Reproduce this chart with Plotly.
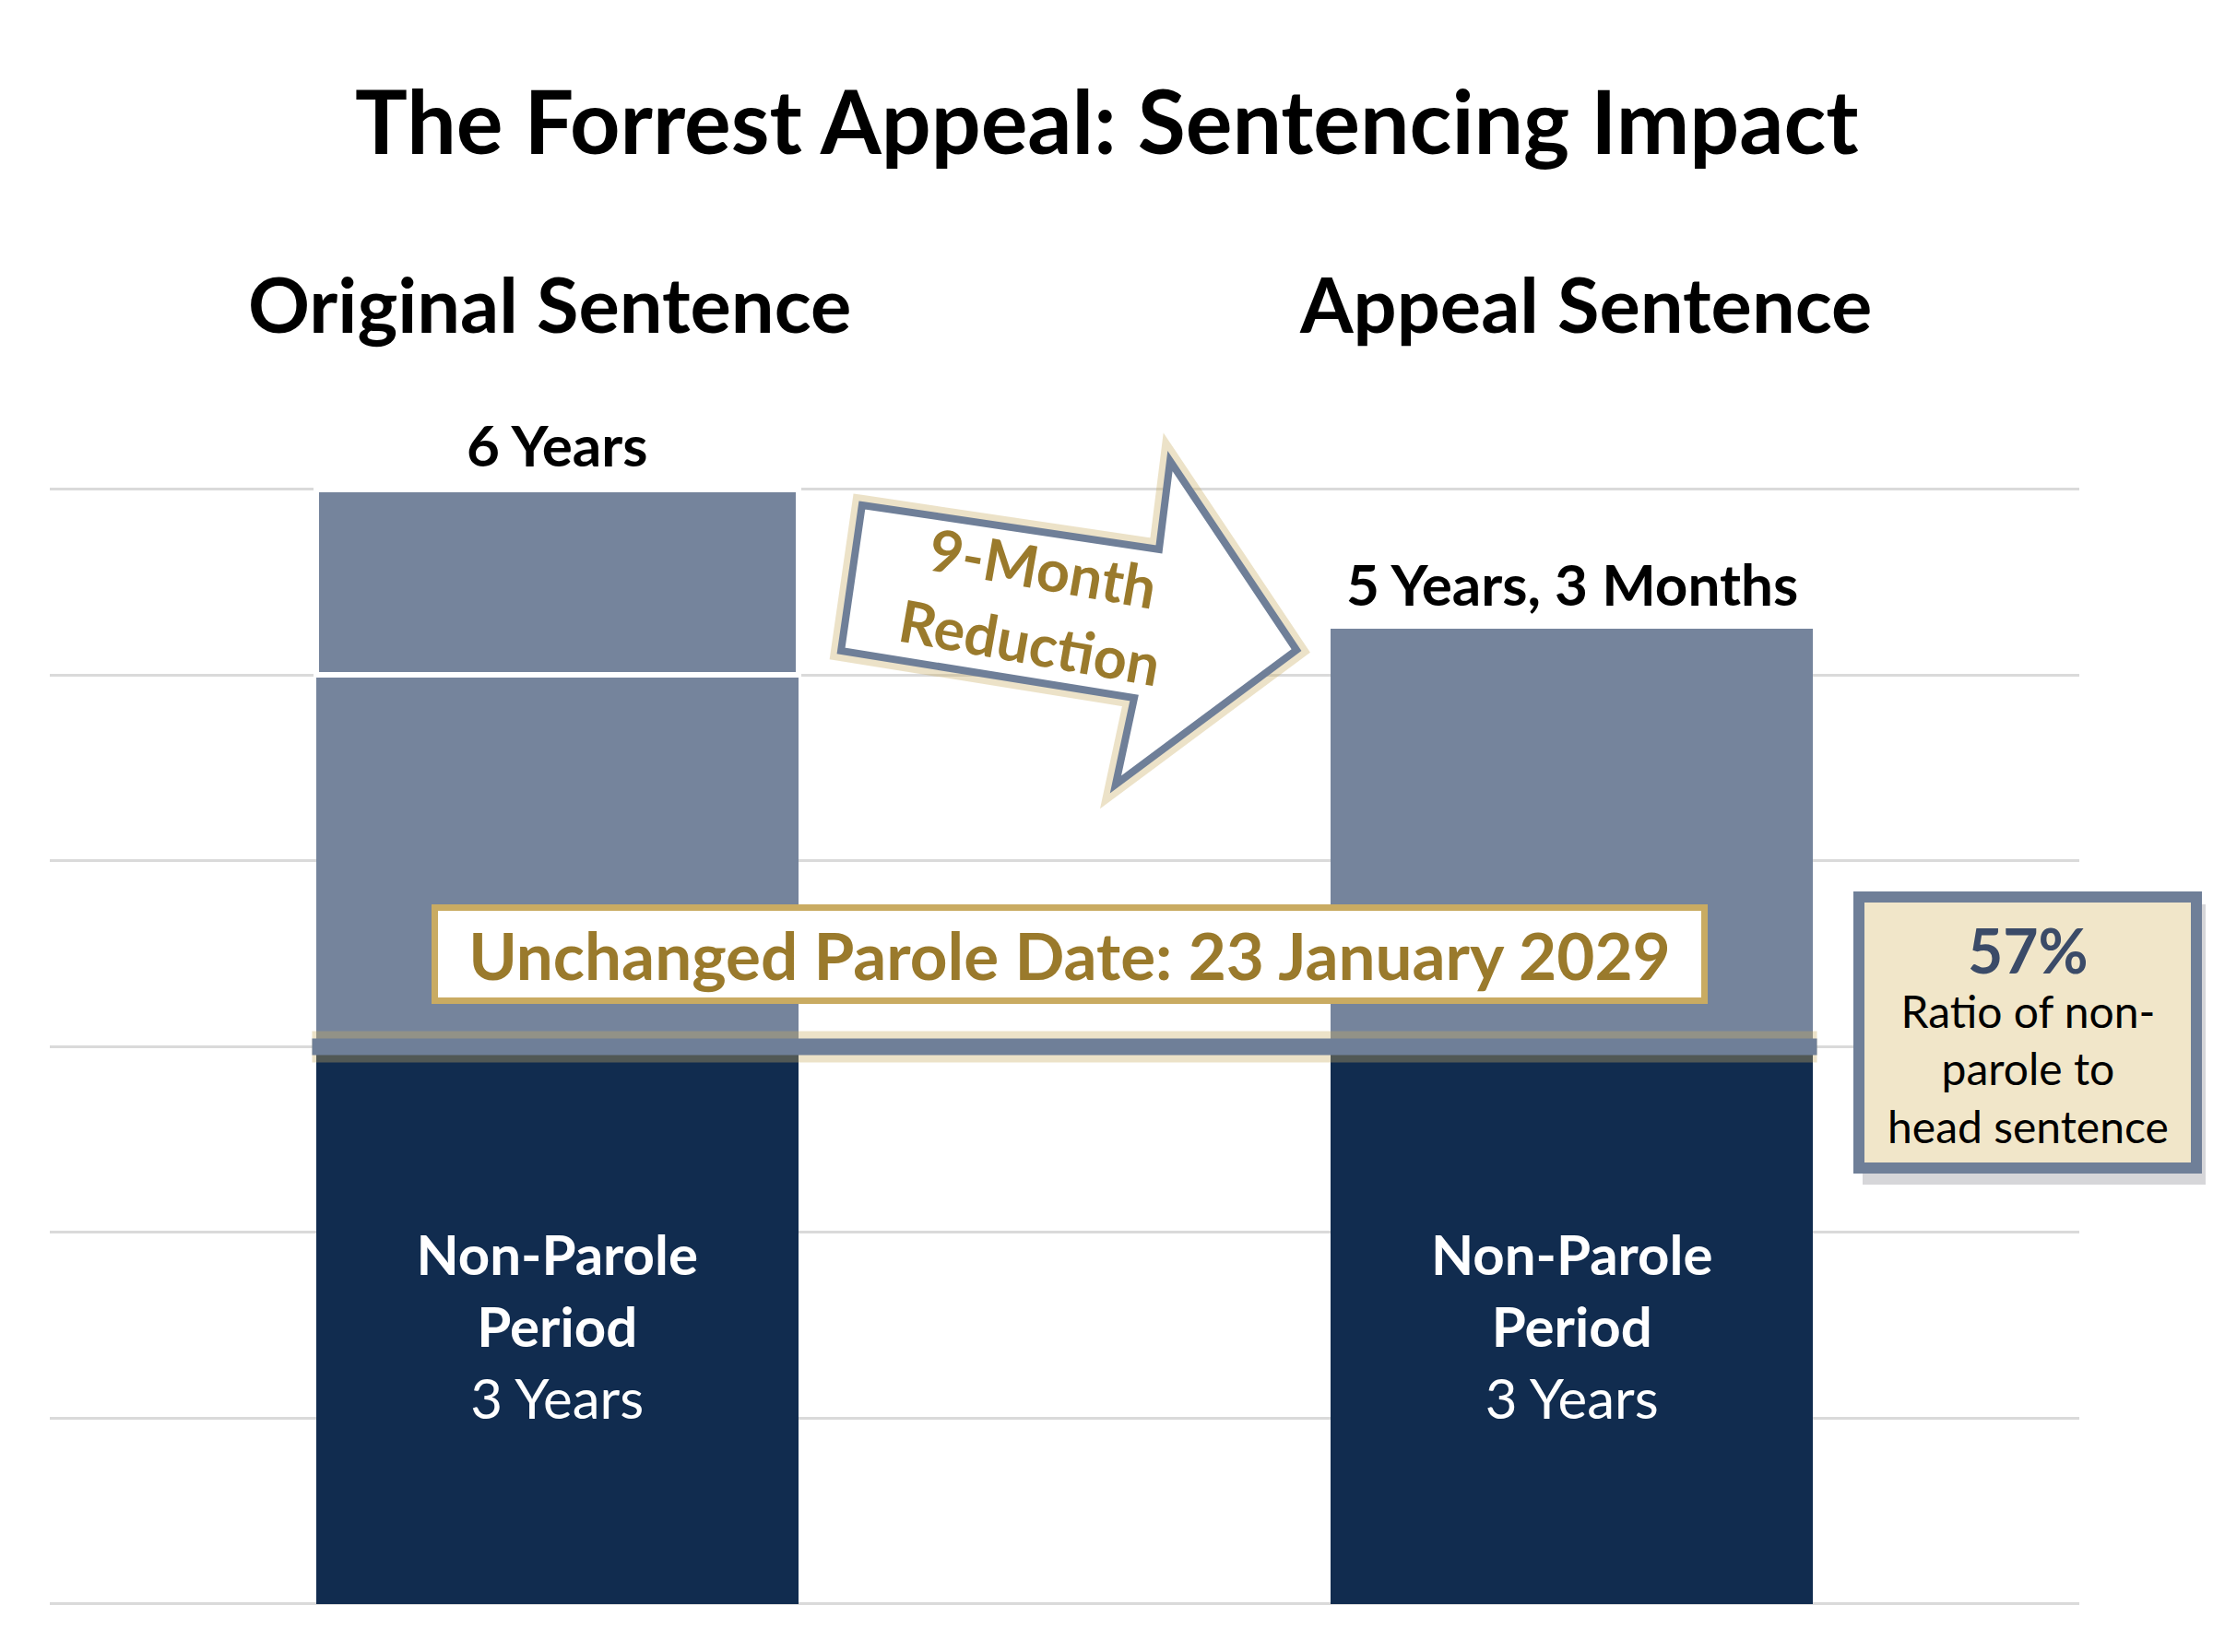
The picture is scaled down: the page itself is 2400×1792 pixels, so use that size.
import plotly.graph_objects as go

# sentence data (years)
stages = ['Original Sentence', 'Appeal Sentence']
head_sentence = [6.0, 5.25]
non_parole = [3.0, 3.0]
# parole part split at the 5-year mark on the original bar
parole_low = [2.0, 2.25]
parole_high = [1.0, 0.0]
grid_years = [0, 1, 2, 3, 4, 5, 6]
parole_date = '23 January 2029'

NAVY = '#112c4f'
SLATE = '#75849c'
EDGE = '#6f7f98'
GOLD = '#9a7a2c'
GOLD_LINE = '#c9ab62'
FONT = 'Lato'

W, H = 2400, 1792
OFF = 8  # page body margin
def px(p):
    return (p - OFF) / W
def py(p):
    return 1 - (p - OFF) / H

def years_label(v):
    yrs = int(v)
    mon = round((v - yrs) * 12)
    s = f'{yrs} Years'
    if mon:
        s += f', {mon} Months'
    return s

fig = go.Figure()

fig.add_trace(go.Bar(
    x=[0, 1], y=non_parole, width=0.475, marker=dict(color=NAVY, line=dict(width=0)),
    text=[f'<b>Non-Parole<br>Period</b><br>{int(v)} Years' for v in non_parole],
    textposition='inside', insidetextanchor='middle', textangle=0,
    textfont=dict(family=FONT, size=60, color='white'), hoverinfo='skip'))
fig.add_trace(go.Bar(
    x=[0, 1], y=parole_low, width=0.475, marker=dict(color=SLATE, line=dict(width=0)),
    hoverinfo='skip'))
fig.add_trace(go.Bar(
    x=[0, 1], y=parole_high, width=0.475,
    marker=dict(color=SLATE, line=dict(color='white', width=[6, 0])),
    hoverinfo='skip'))

# total labels above bars, stage headings
head_shift = [-8, 15]
for i, v in enumerate(head_sentence):
    fig.add_annotation(x=i, y=v, xref='x', yref='y', xanchor='center', yanchor='bottom', yshift=10,
                       text=f'<b>{years_label(v)}</b>', showarrow=False,
                       font=dict(family=FONT, size=62, color='black'))
    fig.add_annotation(x=i, y=py(329), xref='x', yref='paper', xanchor='center', yanchor='middle',
                       xshift=head_shift[i], text=f'<b>{stages[i]}</b>', showarrow=False,
                       font=dict(family=FONT, size=83, color='black'))

fig.add_annotation(x=px(1200), y=py(130), xref='paper', yref='paper', xanchor='center', yanchor='middle',
                   text='<b>The Forrest Appeal: Sentencing Impact</b>', showarrow=False,
                   font=dict(family=FONT, size=95, color='black'))

# parole line across both bars
x_left, x_right = -0.2375 - 0.004, 1.2375 + 0.004
fig.add_shape(type='line', x0=x_left, x1=x_right, y0=non_parole[0], y1=non_parole[0],
              xref='x', yref='y', layer='above',
              line=dict(color='rgba(201,171,98,0.35)', width=34))
fig.add_shape(type='line', x0=x_left, x1=x_right, y0=non_parole[0], y1=non_parole[0],
              xref='x', yref='y', layer='above', line=dict(color=EDGE, width=18))

fig.add_annotation(x=0.505, y=non_parole[0] + 0.5, xref='x', yref='y', xanchor='center', yanchor='middle',
                   text=f'<b>Unchanged Parole Date: {parole_date}</b>', showarrow=False,
                   font=dict(family=FONT, size=71, color=GOLD),
                   bgcolor='white', bordercolor=GOLD_LINE, borderwidth=7, borderpad=0,
                   width=1370, height=94)

# reduction arrow
pts = [(935, 548), (1257, 596), (1269, 500), (1406, 705), (1210, 851), (1230, 757), (912, 706)]
path = 'M ' + ' L '.join(f'{px(a):.4f},{py(b):.4f}' for a, b in pts) + ' Z'
fig.add_shape(type='path', path=path, xref='paper', yref='paper', layer='above',
              line=dict(color='rgba(201,171,98,0.35)', width=22))
fig.add_shape(type='path', path=path, xref='paper', yref='paper', layer='above',
              fillcolor='white', line=dict(color=EDGE, width=8))
months_cut = round((head_sentence[0] - head_sentence[1]) * 12)
fig.add_annotation(x=px(1124), y=py(656), xref='paper', yref='paper', xanchor='center', yanchor='middle',
                   textangle=10, text=f'<b>{months_cut}-Month<br>Reduction</b>', showarrow=False,
                   font=dict(family=FONT, size=63, color=GOLD))

# ratio box
ratio = round(non_parole[1] / head_sentence[1] * 100)
fig.add_shape(type='rect', x0=px(2020), x1=px(2396), y0=py(981), y1=py(1285),
              xref='paper', yref='paper', layer='above',
              fillcolor='rgba(70,70,80,0.22)', line=dict(width=0))
fig.add_shape(type='rect', x0=px(2016), x1=px(2382), y0=py(973), y1=py(1267),
              xref='paper', yref='paper', layer='above',
              fillcolor='#f1e6c9', line=dict(color=EDGE, width=12))
fig.add_annotation(x=px(2199), y=py(1030), xref='paper', yref='paper', xanchor='center', yanchor='middle',
                   text=f'<b>{ratio}%</b>', showarrow=False,
                   font=dict(family=FONT, size=66, color='#3b4b68'))
fig.add_annotation(x=px(2199), y=py(1159), xref='paper', yref='paper', xanchor='center', yanchor='middle',
                   text='Ratio of non-<br>parole to<br>head sentence', showarrow=False,
                   font=dict(family=FONT, size=48, color='black'))

fig.update_layout(
    width=W, height=H, barmode='stack', showlegend=False,
    margin=dict(l=0, r=0, t=0, b=0),
    paper_bgcolor='white', plot_bgcolor='white',
    xaxis=dict(domain=[px(54), px(2255)], range=[-0.5, 1.5], showticklabels=False,
               showgrid=False, zeroline=False, fixedrange=True),
    yaxis=dict(range=[-0.2978, 8.5955], tickvals=grid_years, showticklabels=False,
               showgrid=True, gridcolor='#dadada', gridwidth=3, zeroline=False),
)

fig.write_html('out.html')
